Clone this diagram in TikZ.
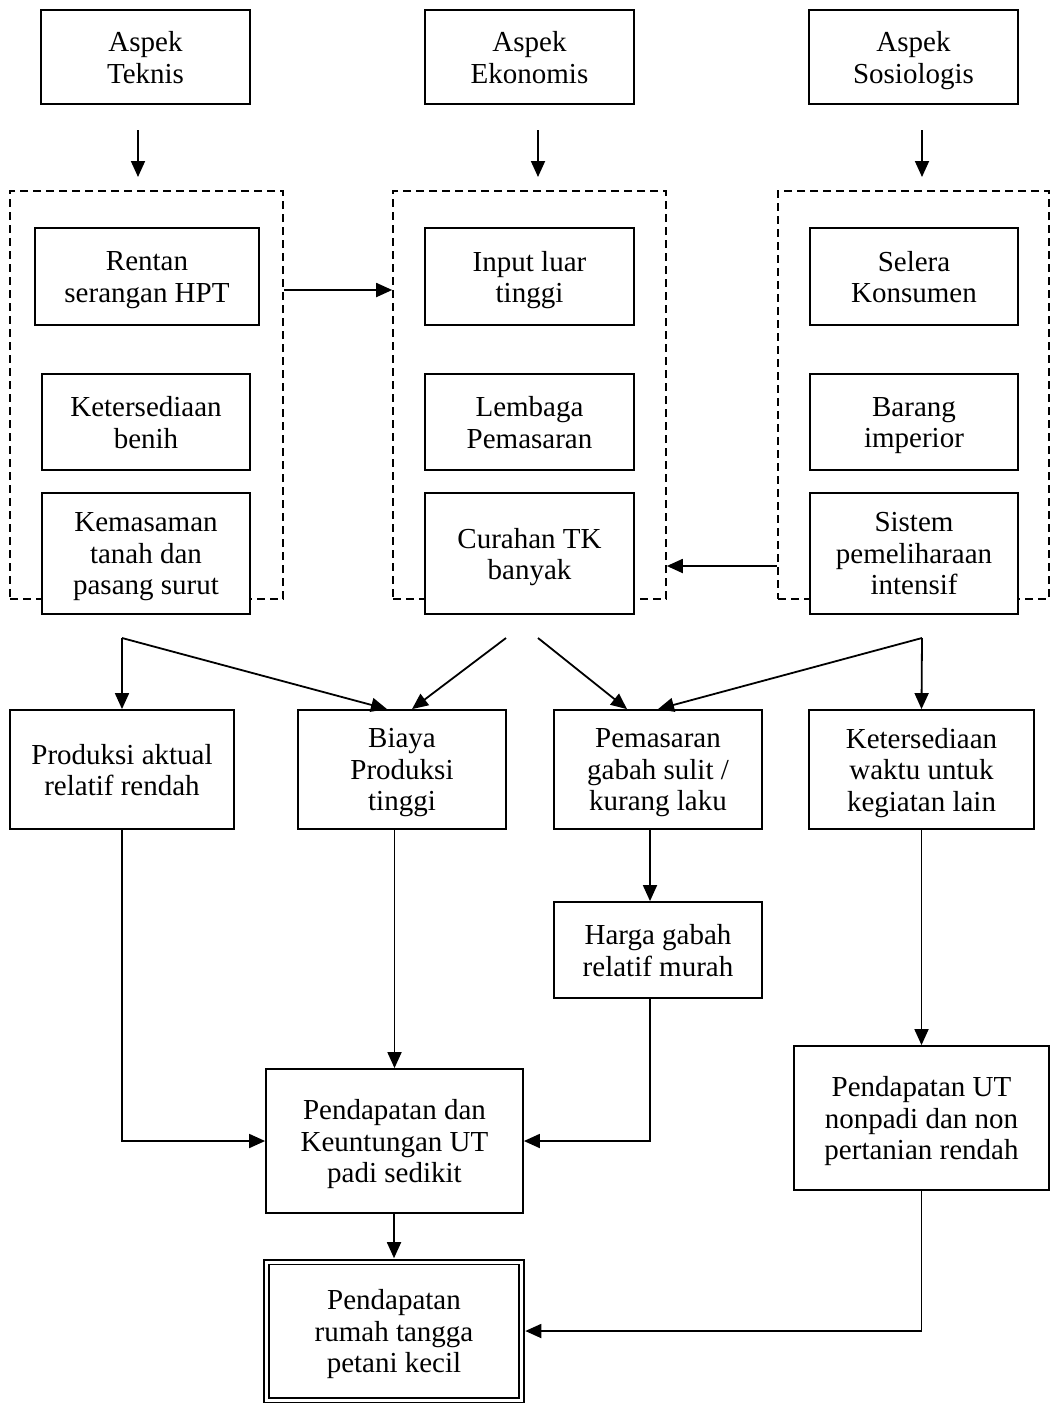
\documentclass[tikz,border=0pt]{standalone}
\usepackage{fontspec}
\setmainfont{Liberation Serif}
\usetikzlibrary{arrows.meta}
\newcommand{\mybox}[7][]{%
  \node[box, minimum width=#5pt, minimum height=#6pt, #1] (#2) at (#3,#4) {};
  \node[txt] (#2-t) at ([yshift=-5pt]#2.center) {#7};}
\begin{document}
\begin{tikzpicture}[x=1pt,y=-1pt,
  box/.style={draw, line width=1.8pt, fill=white, inner sep=0pt},
  txt/.style={align=center, inner sep=0pt, font=\fontsize{29}{31.5}\selectfont,
    execute at begin node=\strut, execute at end node=\strut},
  group/.style={draw, line width=1.6pt, dash pattern=on 8pt off 5pt, inner sep=0pt},
  arr/.style={line width=1.8pt, -{Triangle[length=16pt,width=14pt]}}]
\useasboundingbox (0,0) rectangle (1053,1406);
% top aspect boxes
\mybox{ateknis}{145.5}{57}{209}{94}{Aspek\\Teknis}
\mybox{aekon}{529.5}{57}{209}{94}{Aspek\\Ekonomis}
\mybox{asosio}{913.5}{57}{209}{94}{Aspek\\Sosiologis}
% dashed groups
\node[group, minimum width=273pt, minimum height=408pt] (dl) at (146.5,395) {};
\node[group, minimum width=273pt, minimum height=408pt] (dm) at (529.5,395) {};
\node[group, minimum width=271pt, minimum height=408pt] (dr) at (913.5,395) {};
% inner boxes
\mybox{rentan}{147}{276.5}{224}{97}{Rentan\\serangan HPT}
\mybox{benih}{146}{422}{208}{96}{Ketersediaan\\benih}
\mybox{kemas}{146}{553.5}{208}{121}{Kemasaman\\tanah dan\\pasang surut}
\mybox{input}{529.5}{276.5}{209}{97}{Input luar\\tinggi}
\mybox{lembaga}{529.5}{422}{209}{96}{Lembaga\\Pemasaran}
\mybox{curahan}{529.5}{553.5}{209}{121}{Curahan TK\\banyak}
\mybox{selera}{914}{276.5}{208}{97}{Selera\\Konsumen}
\mybox{barang}{914}{422}{208}{96}{Barang\\imperior}
\mybox{sistem}{914}{553.5}{208}{121}{Sistem\\pemeliharaan\\intensif}
% effect row
\mybox{produksi}{122}{769.5}{224}{119}{Produksi aktual\\relatif rendah}
\mybox{biaya}{402}{769.5}{208}{119}{Biaya\\Produksi\\tinggi}
\mybox{pemasaran}{658}{769.5}{208}{119}{Pemasaran\\gabah sulit /\\kurang laku}
\mybox{waktu}{921.5}{769.5}{225}{119}{Ketersediaan\\waktu untuk\\kegiatan lain}
\mybox{harga}{658}{950}{208}{96}{Harga gabah\\relatif murah}
\mybox{pend}{394.5}{1141}{257}{144}{Pendapatan dan\\Keuntungan UT\\padi sedikit}
\mybox{nonpadi}{921.5}{1118}{255}{144}{Pendapatan UT\\nonpadi dan non\\pertanian rendah}
\mybox[double, line width=1.6pt, double distance=3pt]{final}{394}{1331}{255}{138}{Pendapatan\\rumah tangga\\petani kecil}
% coordinates
\coordinate (t1a) at (138,130); \coordinate (t1b) at (138,177);
\coordinate (t2a) at (538,130); \coordinate (t2b) at (538,177);
\coordinate (t3a) at (922,130); \coordinate (t3b) at (922,177);
\coordinate (y290) at (0,290);
\coordinate (y566) at (0,566);
\coordinate (cL) at (122,638);
\coordinate (cR) at (922,638);
\coordinate (m1) at (506,638);
\coordinate (m2) at (538,638);
% connectors
\draw[arr] (t1a) -- (t1b);
\draw[arr] (t2a) -- (t2b);
\draw[arr] (t3a) -- (t3b);
\draw[arr] (dl.east |- y290) -- (dm.west |- y290);
\draw[arr] (dr.west |- y566) -- (dm.east |- y566);
\draw[arr] (cL) -- (produksi.north);
\draw[arr] (cL) -- ([xshift=-15pt]biaya.north);
\draw[arr] (m1) -- ([xshift=10pt]biaya.north);
\draw[arr] (m2) -- ([xshift=-31pt]pemasaran.north);
\draw[arr] (cR) -- (pemasaran.north);
\draw[arr] (cR) -- (waktu.north);
\draw[arr] ([xshift=-8pt]pemasaran.south) -- ([xshift=-8pt]harga.north);
\draw[arr] (biaya.south -| pend.north) -- (pend.north);
\draw[arr] (produksi.south) |- (pend.west);
\draw[arr] ([xshift=-8pt]harga.south) |- (pend.east);
\draw[arr] (waktu.south) -- (nonpadi.north);
\draw[arr, shorten >=3pt] (pend.south -| final.north) -- (final.north);
\draw[arr, shorten >=3pt] (nonpadi.south) |- (final.east);
\end{tikzpicture}
\end{document}
